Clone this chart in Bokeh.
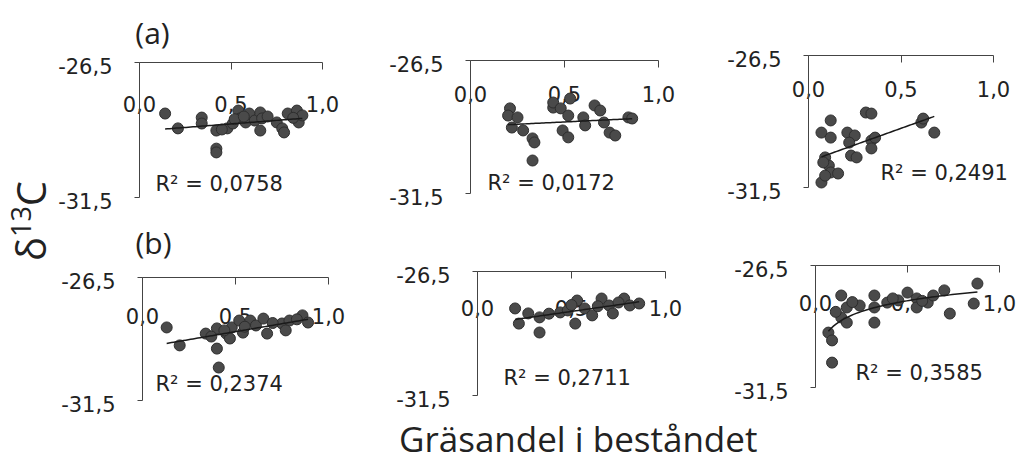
import numpy as np
from bokeh.plotting import figure
from bokeh.models import Range1d, FixedTicker, CustomJSTickFormatter, Label, Div, ColumnDataSource
from bokeh.layouts import row, column
from bokeh.embed import file_html
from bokeh.resources import INLINE

# ---------------- data ----------------
x_a1 = [0.14, 0.21, 0.34, 0.34, 0.42, 0.42, 0.42, 0.48, 0.51, 0.54, 0.55, 0.58, 0.60, 0.63,
        0.66, 0.67, 0.66, 0.75, 0.78, 0.79, 0.81, 0.86, 0.87, 0.89, 0.45, 0.52, 0.70, 0.84, 0.57]
y_a1 = [-28.39, -28.94, -28.54, -28.76, -29.02, -29.69, -29.83, -28.94, -28.76, -28.28, -28.57,
        -28.72, -28.39, -28.65, -28.35, -28.57, -29.02, -28.72, -28.94, -29.09, -28.39, -28.28,
        -28.72, -28.46, -28.98, -28.60, -28.50, -28.55, -28.50]

x_a2 = [0.21, 0.20, 0.25, 0.22, 0.28, 0.33, 0.34, 0.33, 0.44, 0.44, 0.48, 0.53, 0.52, 0.49,
        0.52, 0.60, 0.61, 0.66, 0.69, 0.71, 0.74, 0.77, 0.84, 0.86]
y_a2 = [-28.30, -28.57, -28.64, -29.02, -29.13, -29.43, -29.58, -30.26, -28.27, -28.08, -28.30,
        -27.93, -28.57, -29.13, -29.39, -28.64, -28.94, -28.19, -28.38, -28.83, -29.21, -29.32,
        -28.64, -28.68]

x_a3 = [0.12, 0.31, 0.34, 0.07, 0.12, 0.21, 0.25, 0.22, 0.34, 0.36, 0.34, 0.23, 0.26, 0.09,
        0.11, 0.12, 0.16, 0.07, 0.09, 0.61, 0.62, 0.68, 0.08]
y_a3 = [-28.96, -28.66, -28.70, -29.42, -29.61, -29.42, -29.53, -29.80, -29.72, -29.61, -30.02,
        -30.29, -30.36, -30.36, -30.67, -30.93, -30.97, -31.31, -31.05, -29.04, -28.89, -29.42,
        -30.55]

x_b1 = [0.13, 0.20, 0.34, 0.40, 0.40, 0.41, 0.45, 0.48, 0.52, 0.54, 0.58, 0.61, 0.65, 0.67,
        0.75, 0.79, 0.86, 0.89, 0.77, 0.47, 0.55, 0.70, 0.83, 0.44, 0.37]
y_b1 = [-28.53, -29.26, -28.78, -28.57, -29.39, -30.16, -28.78, -28.53, -28.25, -28.74, -28.25,
        -28.45, -28.17, -28.78, -28.37, -28.25, -28.04, -28.33, -28.65, -28.98, -28.50, -28.35,
        -28.20, -28.65, -28.90]

x_b2 = [0.20, 0.27, 0.22, 0.33, 0.33, 0.44, 0.53, 0.52, 0.57, 0.61, 0.66, 0.70, 0.72, 0.78,
        0.81, 0.86, 0.48, 0.50, 0.64, 0.75, 0.38]
y_b2 = [-27.99, -28.19, -28.60, -28.35, -28.96, -28.15, -27.67, -28.60, -27.99, -28.27, -27.59,
        -27.87, -28.19, -27.59, -27.87, -27.79, -28.07, -27.85, -27.90, -27.75, -28.20]

x_b3 = [0.14, 0.17, 0.24, 0.14, 0.17, 0.07, 0.09, 0.09, 0.32, 0.32, 0.32, 0.39, 0.45, 0.50,
        0.55, 0.55, 0.61, 0.64, 0.70, 0.73, 0.86, 0.88, 0.20, 0.42, 0.58, 0.11]
y_b3 = [-27.73, -28.22, -28.14, -28.63, -28.84, -29.25, -29.57, -30.48, -27.73, -28.22, -28.84,
        -28.02, -27.93, -27.61, -27.85, -28.22, -28.02, -27.73, -27.52, -28.47, -28.06, -27.24,
        -28.00, -27.85, -27.95, -28.40]

panel_tags = ["(a)", "", "", "(b)", "", ""]
r2_texts = ["R² = 0,0758", "R² = 0,0172", "R² = 0,2491",
            "R² = 0,2374", "R² = 0,2711", "R² = 0,3585"]
trend_kind = ["linear", "linear", "linear", "linear", "linear", "log"]
x_tick_values = [0.0, 0.5, 1.0]
x_tick_labels = ["0,0", "0,5", "1,0"]
y_tick_values = [-31.5, -26.5]
y_tick_labels = ["-31,5", "-26,5"]
y_title = "δ<sup style='font-size:27px'>13</sup>C"
x_title = "Gräsandel i beståndet"

series = [(x_a1, y_a1), (x_a2, y_a2), (x_a3, y_a3), (x_b1, y_b1), (x_b2, y_b2), (x_b3, y_b3)]

XMIN, XMAX = x_tick_values[0], x_tick_values[-1]
YMIN, YMAX = y_tick_values[0], y_tick_values[-1]

# ---------------- layout / style (page pixels) ----------------
# box: canvas left, right, top, bottom; anchor: px of x=0, x=1, y=top, y=bottom
YDIV_W = 48
ROW_SPLIT = 220
layout_spec = [
    dict(box=(YDIV_W, 360, 0, ROW_SPLIT), anchor=(139, 322, 62, 197), toff=41, r2=(16, -121), tag=(13, 30)),
    dict(box=(360, 700, 0, ROW_SPLIT),    anchor=(470, 658, 60, 193), toff=33, r2=(17, -122), tag=None),
    dict(box=(700, 1016, 0, ROW_SPLIT),   anchor=(808, 993, 55, 187), toff=33, r2=(72, -117), tag=None),
    dict(box=(YDIV_W, 368, ROW_SPLIT, 415), anchor=(142, 328, 277, 400), toff=38, r2=(13, -106), tag=(11, 35)),
    dict(box=(368, 708, ROW_SPLIT, 415),  anchor=(477, 665, 271, 395), toff=36, r2=(26, -106), tag=None),
    dict(box=(708, 1016, ROW_SPLIT, 415), anchor=(815, 999, 265, 387), toff=37, r2=(40, -107), tag=None),
]
ML, MT = 6, 2

TXT = "#222222"
FONT = "DejaVu Sans"
AX = "#444444"

blank_fmt = CustomJSTickFormatter(code="return '';")

figs = []
for i, ((xs, ys), spec) in enumerate(zip(series, layout_spec)):
    bl, br, bt, bb = spec["box"]
    x0, x1, yt, yb = spec["anchor"]
    fl, fr, ft, fb = bl + ML, br, bt + MT, bb
    sx = (x1 - x0) / (XMAX - XMIN)
    sy = (yb - yt) / (YMAX - YMIN)
    xr = Range1d(XMIN + (fl - x0) / sx, XMIN + (fr - x0) / sx)
    yr = Range1d(YMIN - (fb - yb) / sy, YMAX + (yt - ft) / sy)

    p = figure(frame_width=fr - fl, frame_height=fb - ft, title=None,
               output_backend="svg", toolbar_location=None,
               x_range=xr, y_range=yr,
               x_axis_location="above", y_axis_location="left",
               min_border_left=ML, min_border_right=0,
               min_border_top=MT, min_border_bottom=0,
               background_fill_color="white", border_fill_color="white")
    p.outline_line_color = None
    p.xgrid.visible = False
    p.ygrid.visible = False

    xa = p.xaxis[0]
    xa.fixed_location = YMAX
    xa.bounds = (XMIN, XMAX)
    xa.ticker = FixedTicker(ticks=x_tick_values)
    xa.formatter = blank_fmt
    xa.major_label_text_font_size = "0px"
    xa.major_tick_in = 7
    xa.major_tick_out = 0
    xa.minor_tick_in = 0
    xa.minor_tick_out = 0
    xa.major_label_standoff = 0
    xa.axis_line_color = AX
    xa.major_tick_line_color = AX

    ya = p.yaxis[0]
    ya.fixed_location = XMIN
    ya.bounds = (YMIN, YMAX)
    ya.ticker = FixedTicker(ticks=y_tick_values)
    ya.formatter = blank_fmt
    ya.major_label_text_font_size = "0px"
    ya.major_tick_in = 0
    ya.major_tick_out = 5
    ya.minor_tick_in = 0
    ya.minor_tick_out = 0
    ya.major_label_standoff = 0
    ya.axis_line_color = AX
    ya.major_tick_line_color = AX

    # y tick labels
    for tv, tl in zip(y_tick_values, y_tick_labels):
        p.add_layout(Label(x=XMIN, y=tv, x_offset=-27, y_offset=-3, text=tl,
                           text_align="right", text_baseline="middle",
                           text_font=FONT, text_font_size="21px", text_color=TXT))
    # x tick labels (below the top axis line)
    for tv, tl in zip(x_tick_values, x_tick_labels):
        p.add_layout(Label(x=tv, y=YMAX, y_offset=-spec["toff"], text=tl,
                           text_align="center", text_baseline="middle",
                           text_font=FONT, text_font_size="21px", text_color=TXT,
                           level="underlay"))

    src = ColumnDataSource(dict(x=xs, y=ys))
    p.scatter("x", "y", source=src, size=11, fill_color="#4a4a4a", line_color="#2e2e2e",
              line_width=1)

    xarr = np.array(xs, dtype=float)
    yarr = np.array(ys, dtype=float)
    xl = np.linspace(xarr.min(), xarr.max(), 60)
    if trend_kind[i] == "log":
        a, b = np.polyfit(np.log(xarr), yarr, 1)
        yl = a * np.log(xl) + b
    else:
        a, b = np.polyfit(xarr, yarr, 1)
        yl = a * xl + b
    p.line(xl, yl, line_color="#1a1a1a", line_width=1.5)

    p.add_layout(Label(x=XMIN, y=YMAX, x_offset=spec["r2"][0], y_offset=spec["r2"][1],
                       text=r2_texts[i], text_align="left", text_baseline="middle",
                       text_font=FONT, text_font_size="21px", text_color=TXT))

    if panel_tags[i]:
        p.add_layout(Label(x=XMIN, y=YMAX, x_offset=spec["tag"][0], y_offset=spec["tag"][1],
                           text=panel_tags[i], text_align="center", text_baseline="middle",
                           text_font="Open Sans", text_font_size="30px", text_color=TXT))
    figs.append(p)

ydiv = Div(text=('<div style="position:absolute;left:29px;top:221px;'
                 'transform:translate(-50%,-50%) rotate(-90deg);white-space:nowrap;'
                 'font-family:\'Open Sans\';font-size:40px;color:#222;line-height:1">'
                 + y_title + '</div>'),
           width=YDIV_W, height=415, margin=0)

tdiv = Div(text=('<div style="position:absolute;left:399px;top:6px;'
                 'font-family:\'Open Sans\';font-size:35px;color:#222;'
                 'line-height:35px;white-space:nowrap">' + x_title + '</div>'),
           width=1016, height=45, margin=0)

grid = column(row(figs[0], figs[1], figs[2]), row(figs[3], figs[4], figs[5]))
page = column(row(ydiv, grid), tdiv)

open("out.html", "w").write(file_html(page, INLINE))
